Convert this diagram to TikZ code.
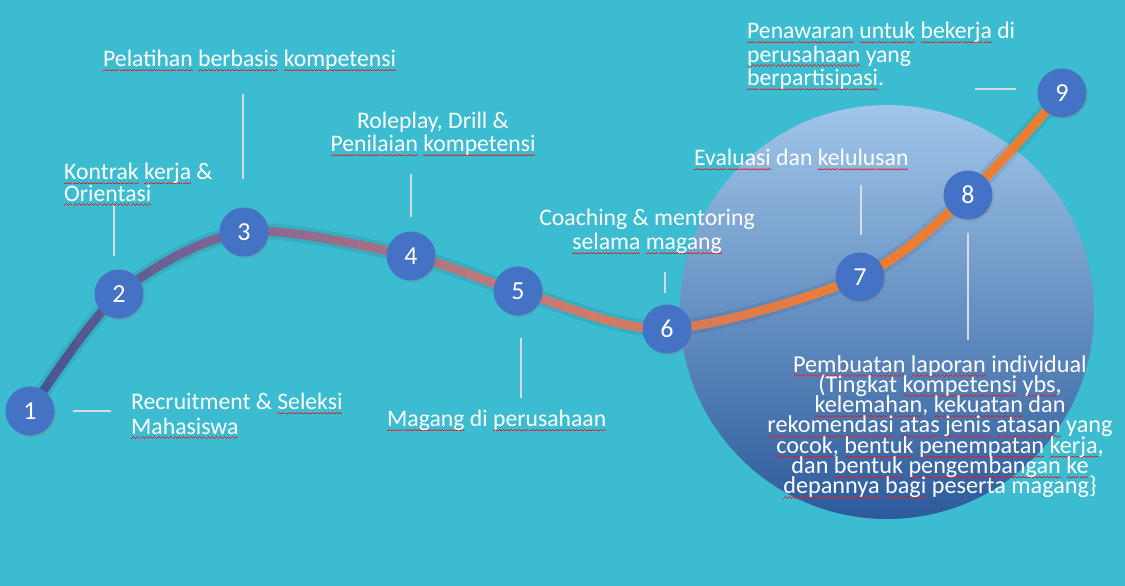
\documentclass[tikz,border=0pt]{standalone}
\usepackage{fontspec}
\setmainfont{Carlito}
\usepackage{tikz}
\usetikzlibrary{shadows}

\definecolor{bgteal}{RGB}{59,188,208}
\definecolor{stepblue}{RGB}{68,114,196}
\definecolor{leadgray}{RGB}{214,222,226}
\definecolor{squig}{RGB}{232,28,28}
\definecolor{cA}{RGB}{58,80,146}
\definecolor{cB}{RGB}{134,104,146}
\definecolor{cC}{RGB}{199,121,120}
\definecolor{cD}{RGB}{237,125,49}

% red wavy underline for single words
\newsavebox\wvbox
\newcommand\wvpiece{\rule[-4.6pt]{1pt}{0.9pt}\rule[-3.9pt]{1pt}{0.9pt}\rule[-3.2pt]{1pt}{0.9pt}\rule[-3.9pt]{1pt}{0.9pt}}
\newcommand\wv[1]{\sbox\wvbox{#1}\leavevmode
    \rlap{\hbox to \wd\wvbox{\color{squig}\xleaders\hbox{\wvpiece}\hfill}}\usebox\wvbox}
\newcommand\tightlines{\lineskiplimit=-20pt\relax}

\tikzset{
    stepnode/.style={circle, fill=stepblue, text=white, minimum size=49pt, inner sep=0pt,
        font=\fontsize{26}{26}\selectfont,
        drop shadow={opacity=0.25, shadow xshift=1.5pt, shadow yshift=-2pt}},
    lbl/.style={text=white, inner sep=0pt},
    leader/.style={leadgray, line width=1.1pt},
}

\begin{document}
\begin{tikzpicture}[x=1pt, y=-1pt]
        \useasboundingbox (0,0) rectangle (1125,586);
        \fill[bgteal] (0,0) rectangle (1125,586);
        \shade[top color={rgb,255:red,160;green,198;blue,233}, middle color={rgb,255:red,96;green,156;blue,213},
               bottom color={rgb,255:red,44;green,90;blue,155}] (887,312) circle (207);

        \coordinate (p1) at (30,411);
        \coordinate (p2) at (119,294);
        \coordinate (p3) at (244,232);
        \coordinate (p4) at (411,256);
        \coordinate (p5) at (518,291);
        \coordinate (p6) at (667,329);
        \coordinate (p7) at (860,277);
        \coordinate (p8) at (968,195);
        \coordinate (p9) at (1062,93);

        % shadow under the curve
        \draw[black, opacity=0.07, line width=16pt, shift={(0,12)}]
            plot[smooth] coordinates {(p1) (p2) (p3) (p4) (p5) (p6) (p7) (p8) (p9)};
        \draw[black, opacity=0.07, line width=8pt, shift={(0,12)}]
            plot[smooth] coordinates {(p1) (p2) (p3) (p4) (p5) (p6) (p7) (p8) (p9)};

        % curve, coloured strip by strip
        \foreach \xa/\xb/\ca/\cb in {0/250/cA/cB, 250/520/cB/cC, 520/860/cC/cD, 860/1125/cD/cD}{
            \foreach \k in {0,...,9}{
                \pgfmathsetmacro\xs{\xa+(\xb-\xa)*\k/10}
                \pgfmathsetmacro\xe{\xa+(\xb-\xa)*(\k+1)/10+0.6}
                \pgfmathtruncatemacro\pc{10*\k+5}
                \colorlet{segcol}{\cb!\pc!\ca}
                \begin{scope}
                    \clip (\xs,0) rectangle (\xe,586);
                    \draw[segcol, line width=9pt]
                        plot[smooth] coordinates {(p1) (p2) (p3) (p4) (p5) (p6) (p7) (p8) (p9)};
                \end{scope}
            }
        }

        % leader lines
        \coordinate (a1) at (73,411);   \coordinate (b1) at (111,411);
        \coordinate (a2) at (114,205);  \coordinate (b2) at (114,256);
        \coordinate (a3) at (243,94);   \coordinate (b3) at (243,179);
        \coordinate (a4) at (411,174);  \coordinate (b4) at (411,217);
        \coordinate (a5) at (521,338);  \coordinate (b5) at (521,398);
        \coordinate (a6) at (665,272);  \coordinate (b6) at (665,293);
        \coordinate (a7) at (861,185);  \coordinate (b7) at (861,235);
        \coordinate (a8) at (968,233);  \coordinate (b8) at (968,340);
        \coordinate (a9) at (975,89);   \coordinate (b9) at (1016,89);
        \foreach \i in {1,...,9}
            \draw[leader] (a\i) -- (b\i);

        \foreach \i in {1,...,9}
            \node[stepnode] (s\i) at (p\i) {\i};

        % labels
        \node[lbl, anchor=north west, align=left, font=\fontsize{23.7}{24.5}\selectfont] (t1) at (131,393)
            {Recruitment \& \wv{Seleksi}\\\wv{Mahasiswa}};
        \node[lbl, anchor=north west, align=left, font=\fontsize{23.7}{21.5}\selectfont\tightlines] (t2) at (64,163)
            {\wv{Kontrak} \wv{kerja} \&\\\wv{Orientasi}};
        \node[lbl, anchor=north west, font=\fontsize{23.7}{24}\selectfont] (t3) at (103,50)
            {\wv{Pelatihan} \wv{berbasis} \wv{kompetensi}};
        \node[lbl, anchor=north, align=center, font=\fontsize{23.7}{23}\selectfont] (t4) at (433,112)
            {Roleplay, Drill \&\\\wv{Penilaian} \wv{kompetensi}};
        \node[lbl, anchor=north west, font=\fontsize{23.7}{24}\selectfont] (t5) at (387,410)
            {\wv{Magang} di \wv{perusahaan}};
        \node[lbl, anchor=north, align=center, font=\fontsize{23.7}{24}\selectfont] (t6) at (647,209)
            {Coaching \& mentoring\\\wv{selama} \wv{magang}};
        \node[lbl, anchor=north west, font=\fontsize{23.7}{24}\selectfont] (t7) at (694,149)
            {\wv{Evaluasi} dan \wv{kelulusan}};
        \node[lbl, anchor=north west, align=left, font=\fontsize{23.7}{23.5}\selectfont] (t8) at (747,22)
            {\wv{Penawaran} \wv{untuk} \wv{bekerja} di\\\wv{perusahaan} yang\\\wv{berpartisipasi}.};
        \node[lbl, anchor=north, align=center, font=\fontsize{24.2}{20.3}\selectfont\tightlines] (t9) at (940,355)
            {\wv{Pembuatan} \wv{laporan} individual\\
             (Tingkat \wv{kompetensi} \wv{ybs},\\
             \wv{kelemahan}, \wv{kekuatan} dan\\
             \wv{rekomendasi} \wv{atas} \wv{jenis} \wv{atasan} yang\\
             \wv{cocok}, \wv{bentuk} \wv{penempatan} \wv{kerja},\\
             dan \wv{bentuk} \wv{pengembangan} \wv{ke}\\
             \wv{depannya} \wv{bagi} peserta magang\}};
    \end{tikzpicture}
\end{document}
